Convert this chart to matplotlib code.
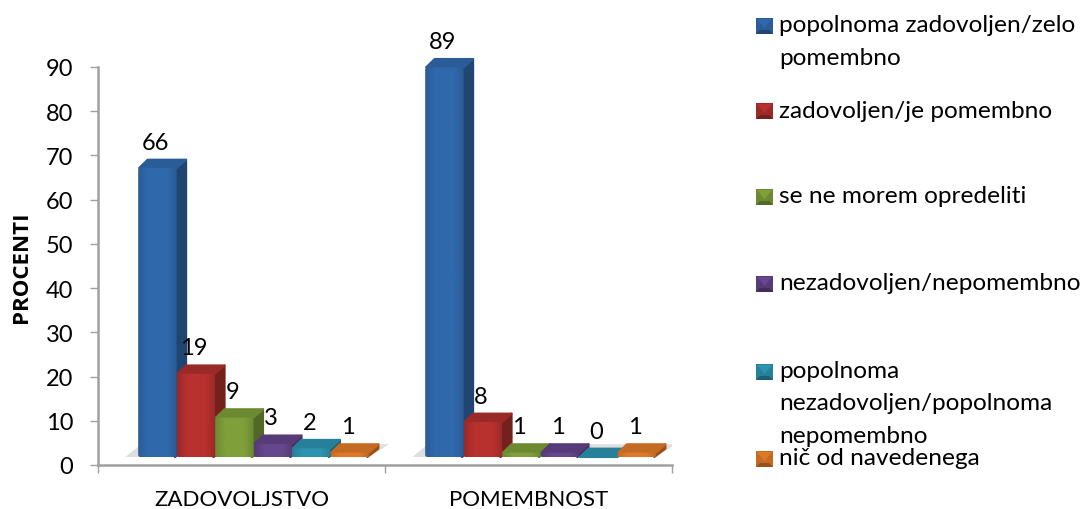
import numpy as np
import matplotlib
matplotlib.use("Agg")
import matplotlib.pyplot as plt
from matplotlib.patches import Polygon, FancyBboxPatch
from matplotlib.colors import LinearSegmentedColormap

plt.rcParams['font.family'] = ['Lato', 'DejaVu Sans']

categories = ["ZADOVOLJSTVO", "POMEMBNOST"]
zadovoljstvo = [66, 19, 9, 3, 2, 1]
pomembnost = [89, 8, 1, 1, 0, 1]
legend_labels = ["popolnoma zadovoljen/zelo\npomembno",
                 "zadovoljen/je pomembno",
                 "se ne morem opredeliti",
                 "nezadovoljen/nepomembno",
                 "popolnoma\nnezadovoljen/popolnoma\nnepomembno",
                 "nič od navedenega"]
y_ticks = [0, 10, 20, 30, 40, 50, 60, 70, 80, 90]

front_colors = ["#2f69ac", "#b8312e", "#7f9f3b", "#66468c", "#2e93ae", "#dd7a2a"]
top_colors = ["#2a5c98", "#9a2a27", "#6d8a32", "#573b78", "#27809a", "#c56a22"]
side_colors = ["#1f4570", "#74201d", "#516826", "#422d5c", "#1c5f73", "#96501a"]

W, H = 1088, 510
fig = plt.figure(figsize=(W/100, H/100), dpi=100)
ax = fig.add_axes([98/W, 1-466/H, 574/W, 398/H])
ax.set_xlim(0, 2)
ax.set_ylim(0, 90)

# fake 3d geometry, in data units
bar_w = 0.134
depth_x = 0.033
depth_y = 1.9
floor = 1.8
scale = 0.99
shift = 0.042


def draw_bar(x, v, i):
    top = floor + v*scale
    r = x + bar_w
    # side and top faces, thick round edge gives the soft corners
    ax.add_patch(Polygon([(r-0.006, floor), (r+depth_x, floor+depth_y), (r+depth_x, top+depth_y),
                          (r-0.006, top)], fc=side_colors[i], ec=side_colors[i], lw=1.5,
                         joinstyle="round", zorder=3+i*0.1, clip_on=False))
    ax.add_patch(Polygon([(x+0.003, top), (x+depth_x, top+depth_y), (r+depth_x, top+depth_y),
                          (r, top)], fc=top_colors[i], ec=top_colors[i], lw=1.5,
                         joinstyle="round", zorder=3+i*0.1, clip_on=False))
    # front face with a soft horizontal shading
    cmap = LinearSegmentedColormap.from_list("f", [top_colors[i], front_colors[i], front_colors[i],
                                                   front_colors[i], top_colors[i]])
    im = ax.imshow(np.linspace(0, 1, 32).reshape(1, -1), cmap=cmap, aspect="auto",
                   extent=(x, r, floor, top), zorder=3.05+i*0.1)
    clip = FancyBboxPatch((x, floor), bar_w, v*scale, boxstyle="round,pad=0,rounding_size=0.008",
                          mutation_aspect=65, transform=ax.transData, fc="none", ec="none")
    ax.add_patch(clip)
    im.set_clip_path(clip)
    im.set_clip_box(fig.bbox)
    ax.annotate(str(v), (x + bar_w/2, top), xytext=(-2, 26), textcoords="offset pixels",
                ha="center", va="center", fontsize=17, color="black", zorder=8,
                annotation_clip=False)


for g, vals in enumerate([zadovoljstvo, pomembnost]):
    c = g + 0.5
    # shadow on the floor
    left = c - 3*bar_w + shift
    ax.add_patch(Polygon([(left-0.045, floor), (left+6*bar_w, floor), (left+6*bar_w+0.07, floor+depth_y+1),
                          (left+0.01, floor+depth_y+1)], color="#dedede", lw=0, zorder=2))
    for i, v in enumerate(vals):
        draw_bar(left + i*bar_w, v, i)

ax.set_xlim(0, 2)
ax.set_ylim(0, 90)
for s in ["top", "right"]:
    ax.spines[s].set_visible(False)
for s in ["left", "bottom"]:
    ax.spines[s].set_color("#a0a0a0")
    ax.spines[s].set_linewidth(1.8)
ax.set_yticks(y_ticks)
ax.set_xticks([0, 1, 2])
ax.set_xticklabels([])
ax.tick_params(axis="both", color="#a0a0a0", width=1, length=5.8, labelsize=17, pad=12)
for g, name in enumerate(categories):
    ax.text(g+0.5, -7.6, name, ha="center", va="center", fontsize=16)
fig.text(22/W, 1-267/H, "PROCENTI", rotation=90, ha="center", va="center", fontsize=16,
         fontweight="bold", family="Open Sans")

# legend drawn by hand, pixel coords
lax = fig.add_axes([0, 0, 1, 1], facecolor="none")
lax.set_xlim(0, W)
lax.set_ylim(H, 0)
lax.axis("off")
key_y = [27, 112, 198, 285, 373, 460]
for i, label in enumerate(legend_labels):
    x0, x1 = 756, 773
    y0, y1 = key_y[i]-8, key_y[i]+8
    xm, ym = (x0+x1)/2, (y0+y1)/2
    lax.add_patch(Polygon([(x0, y0), (x1, y0), (x1, y1), (x0, y1)], color=top_colors[i], lw=0))
    lax.add_patch(Polygon([(x0, y1), (x1, y1), (x1-4, y1-4), (x0+4, y1-4)], color=side_colors[i], lw=0))
    lax.add_patch(Polygon([(x0+1, y0+1), (x1-1, y0+1), (xm, ym+2)], color=front_colors[i], lw=0))
    n = label.count("\n")
    lax.text(779, key_y[i]-1+n*16, label, ha="left", va="center", fontsize=17.6, linespacing=1.68,
             color="black")

fig.savefig("out.png", dpi=100)
